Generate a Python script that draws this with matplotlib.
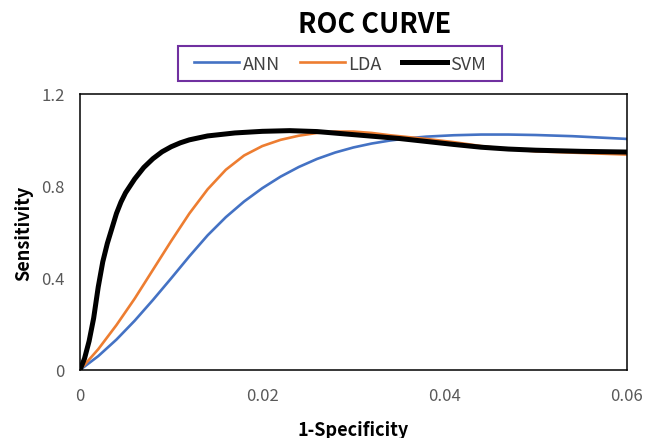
"""
ROC curve for ANN / LDA / SVM classifiers (Excel-style smoothed lines).
"""
import matplotlib
matplotlib.use("Agg")
import matplotlib.pyplot as plt
from matplotlib.patches import Rectangle

plt.rcParams['font.family'] = ['Noto Sans CJK SC', 'DejaVu Sans']

# values
ann_fpr = [0, 0.002, 0.004, 0.006, 0.008, 0.010, 0.012, 0.014, 0.016, 0.018,
           0.020, 0.022, 0.024, 0.026, 0.028, 0.030, 0.032, 0.034, 0.036, 0.038,
           0.041, 0.044, 0.047, 0.050, 0.054, 0.057, 0.060]
ann_tpr = [0, 0.06, 0.132, 0.214, 0.304, 0.398, 0.494, 0.585, 0.664, 0.732,
           0.79, 0.84, 0.882, 0.917, 0.945, 0.967, 0.984, 0.997, 1.007, 1.014,
           1.02, 1.023, 1.023, 1.021, 1.016, 1.01, 1.004]

lda_fpr = [0, 0.002, 0.004, 0.006, 0.008, 0.010, 0.012, 0.014, 0.016, 0.018,
           0.020, 0.022, 0.024, 0.026, 0.028, 0.030, 0.032, 0.034, 0.036, 0.038,
           0.041, 0.044, 0.047, 0.050, 0.055, 0.060]
lda_tpr = [0, 0.09, 0.195, 0.31, 0.435, 0.56, 0.68, 0.785, 0.87, 0.932,
           0.973, 1.0, 1.018, 1.03, 1.036, 1.036, 1.03, 1.02, 1.012, 1.004,
           0.99, 0.973, 0.96, 0.95, 0.943, 0.936]

svm_fpr = [0, 0.0005, 0.001, 0.0015, 0.002, 0.0025, 0.003, 0.0035, 0.004, 0.0045,
           0.005, 0.006, 0.007, 0.008, 0.009, 0.010, 0.011, 0.012, 0.014, 0.017,
           0.020, 0.023, 0.026, 0.029, 0.032, 0.035, 0.038, 0.041, 0.044, 0.047,
           0.050, 0.055, 0.060]
svm_tpr = [0, 0.05, 0.125, 0.225, 0.36, 0.47, 0.55, 0.615, 0.68, 0.73,
           0.77, 0.83, 0.88, 0.918, 0.948, 0.97, 0.987, 1.0, 1.017, 1.03,
           1.037, 1.04, 1.036, 1.026, 1.016, 1.006, 0.993, 0.98, 0.968, 0.96,
           0.955, 0.95, 0.947]

x_ticks = [0, 0.02, 0.04, 0.06]
x_tick_labels = ["0", "0.02", "0.04", "0.06"]
y_ticks = [0, 0.4, 0.8, 1.2]
y_tick_labels = ["0", "0.4", "0.8", "1.2"]

fig = plt.figure(figsize=(6.45, 4.39), dpi=100)
ax = fig.add_axes([0.124, 0.155, 0.848, 0.629])

ax.plot(ann_fpr, ann_tpr, color="#4472C4", linewidth=1.9, label="ANN",
        solid_joinstyle="round")
ax.plot(lda_fpr, lda_tpr, color="#ED7D31", linewidth=1.9, label="LDA",
        solid_joinstyle="round")
ax.plot(svm_fpr, svm_tpr, color="black", linewidth=3.6, label="SVM",
        solid_joinstyle="round")

ax.set_xlim(0, 0.06)
ax.set_ylim(0, 1.2)
ax.set_xticks(x_ticks)
ax.set_xticklabels(x_tick_labels)
ax.set_yticks(y_ticks)
ax.set_yticklabels(y_tick_labels)
ax.tick_params(length=0, labelsize=12, labelcolor="#595959")
ax.tick_params(axis="x", pad=12)
ax.tick_params(axis="y", pad=11)
for s in ax.spines.values():
    s.set_linewidth(1.1)
    s.set_color("black")

ax.set_xlabel("1-Specificity", fontsize=13, fontweight="bold", labelpad=12)
ax.set_ylabel("Sensitivity", fontsize=13, fontweight="bold", labelpad=6)

fig.text(0.581, 0.943, "ROC CURVE", ha="center", va="center",
         fontsize=19.5, fontweight="bold")

leg = fig.legend(loc="center", bbox_to_anchor=(0.527, 0.853), ncol=3,
                 fontsize=13, frameon=False,
                 handlelength=2.5, handletextpad=0.2, columnspacing=1.1)
for t in leg.get_texts():
    t.set_color("#404040")

# legend box drawn separately (wider horizontal padding than matplotlib's)
fig.patches.append(Rectangle((0.276, 0.813), 0.502, 0.080, transform=fig.transFigure,
                             fill=False, edgecolor="#7030A0", linewidth=1.5))

fig.savefig("out.png", dpi=100)
